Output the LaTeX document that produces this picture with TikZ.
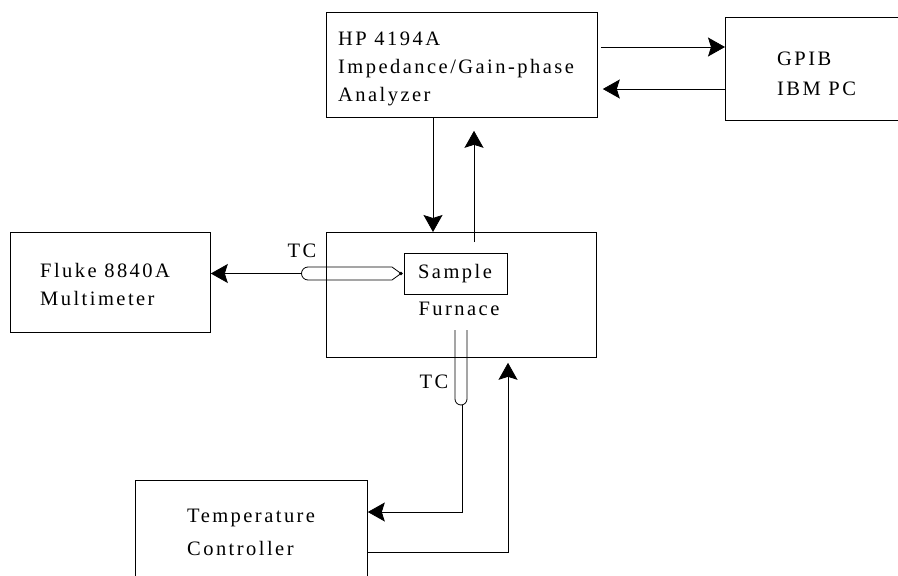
\documentclass[tikz,border=0pt]{standalone}
\usepackage{fontspec}
\setmainfont{Liberation Serif}[LetterSpace=12]
\usetikzlibrary{arrows.meta}
\begin{document}
\begin{tikzpicture}[x=1pt,y=-1pt,
  box/.style={draw, line width=0.8pt, rectangle, inner sep=0pt, anchor=north west},
  lbl/.style={font=\fontsize{20.5}{28}\selectfont, inner sep=0pt, align=left},
  conn/.style={line width=0.8pt},
  arr/.style={conn, -{Stealth[length=17pt,width=19pt,inset=3pt]}}]
\useasboundingbox (0,0) rectangle (898,576);
% boxes
\node[box, minimum width=271pt, minimum height=105pt] (hp) at (326,12) {};
\node[box, minimum width=190pt, minimum height=103pt] (gpib) at (725,17) {};
\node[box, minimum width=270pt, minimum height=125pt] (furn) at (326,232) {};
\node[box, minimum width=103pt, minimum height=41pt] (sample) at (404,253) {};
\node[box, minimum width=200pt, minimum height=100pt] (fluke) at (10,232) {};
\node[box, minimum width=232pt, minimum height=110pt] (ctrl) at (135,480) {};
% texts (base anchor = baseline of the last line)
\node[lbl, anchor=base west] (hpt) at (338,101) {HP 4194A\\Impedance/Gain-phase\\Analyzer};
\node[lbl, anchor=base west] (gpibt) at (777,95) {GPIB\\[2pt]IBM PC};
\node[lbl, anchor=base west] (flukt) at (40,305) {Fluke 8840A\\Multimeter};
\node[lbl, anchor=base west] (ctrlt) at (187,555) {Temperature\\[5pt]Controller};
\node[lbl, anchor=base] (samplet) at (455,278) {Sample};
\node[lbl, anchor=base] (furnt) at (459,315) {Furnace};
\node[lbl, anchor=base] (tc1) at (302,257) {TC};
\node[lbl, anchor=base] (tc2) at (434,388) {TC};
% thermocouple probes
\draw[conn] (308,267) -- (392,267) -- (401,273.5) -- (392,280) -- (308,280)
  arc[start angle=90, end angle=270, radius=6.5] -- cycle;
\fill (401,273.5) circle (1.8);
\draw[conn] (455,330) -- (455,399) arc[start angle=180, end angle=0, radius=6] -- (467,330);
\coordinate (tcl) at (301.5,273.5);
\coordinate (tcb) at (462,405);
% connectors
\draw[arr] ([xshift=3pt]hp.east |- 0,47) -- (gpib.west |- 0,47);
\draw[arr, shorten >=5pt] (gpib.west |- 0,89) -- (hp.east |- 0,89);
\draw[arr] (hp.south -| 433,0) -- (furn.north -| 433,0);
\draw[arr, shorten <=-10pt, shorten >=13pt] (furn.north -| 474,0) -- (hp.south -| 474,0);
\draw[arr] (tcl) -- (fluke.east |- tcl);
\draw[arr] (tcb) |- (ctrl.east |- 0,512);
\draw[arr, shorten >=5pt] (ctrl.east |- 0,552) -| (furn.south -| 508,0);
\end{tikzpicture}
\end{document}
